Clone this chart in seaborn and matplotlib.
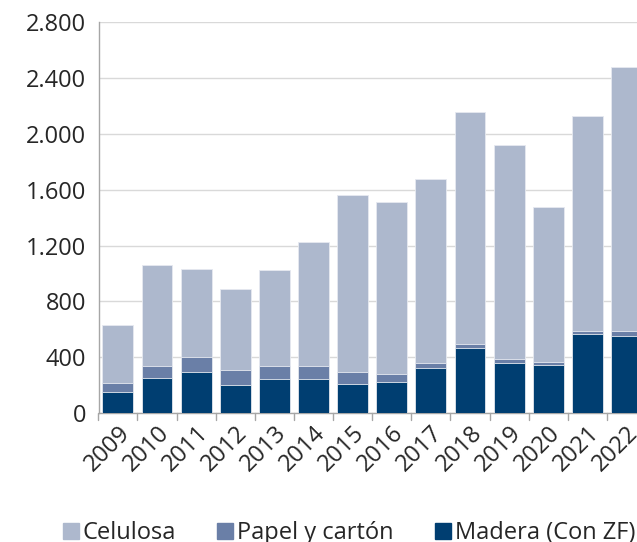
import numpy as np
import pandas as pd
import seaborn as sns
import matplotlib
matplotlib.use("Agg")
from matplotlib import pyplot as plt
from matplotlib.lines import Line2D
from matplotlib.ticker import FuncFormatter

# valores (miles de toneladas)
years = [str(y) for y in range(2009, 2023)]
madera = [151, 250, 295, 204, 242, 244, 206, 224, 326, 464, 357, 342, 567, 553]
papel = [63, 88, 105, 103, 93, 93, 86, 57, 31, 29, 33, 22, 22, 33]
celulosa = [416, 722, 632, 581, 689, 890, 1270, 1228, 1317, 1661, 1527, 1109, 1538, 1890]

c_cel = "#adb8cd"
c_pap = "#6a7fa7"
c_mad = "#003e71"
txt = "#262626"

sns.set_style("white")
plt.rcParams["font.family"] = ["Open Sans", "DejaVu Sans"]

df = pd.DataFrame({"year": years, "madera": madera, "papel": papel, "celulosa": celulosa})
df["papel_top"] = df["madera"] + df["papel"]
df["total"] = df["papel_top"] + df["celulosa"]

fig = plt.figure(figsize=(6.37, 5.42), dpi=100)
ax = fig.add_axes([0.155, 0.238, 0.845, 0.721])

# barras apiladas: se dibuja el acumulado de arriba hacia abajo
for col, color in [("total", c_cel), ("papel_top", c_pap), ("madera", c_mad)]:
    sns.barplot(data=df, x="year", y=col, color=color, width=0.79, saturation=1,
                edgecolor="#e6e9f0", linewidth=0.6, ax=ax, zorder=3)

ax.set_ylim(0, 2800)
ax.set_xlim(-0.49, 13.27)
ax.set_yticks(np.arange(0, 2801, 400))
ax.yaxis.set_major_formatter(FuncFormatter(lambda v, p: f"{int(v):,}".replace(",", ".")))
ax.grid(axis="y", color="#d9d9d9", linewidth=1, zorder=0)
ax.set_axisbelow(True)

ax.set_xlabel("")
ax.set_ylabel("")
for s in ["top", "right"]:
    ax.spines[s].set_visible(False)
for s in ["left", "bottom"]:
    ax.spines[s].set_color("#a6a6a6")
    ax.spines[s].set_linewidth(1)

ax.tick_params(axis="y", length=5, width=1, color="#a6a6a6", labelsize=17, labelcolor=txt, pad=4)
ax.tick_params(axis="x", length=0, labelsize=17, labelcolor=txt, pad=6)
for lab in ax.get_xticklabels():
    lab.set_rotation(45)
    lab.set_ha("right")
    lab.set_rotation_mode("anchor")

# marcas del eje x entre barras
for b in np.arange(-0.5, 13.6, 1.0):
    ax.plot([b, b], [0, -0.018], transform=ax.get_xaxis_transform(),
            color="#a6a6a6", linewidth=1, clip_on=False)

handles = [Line2D([], [], marker="s", linestyle="", markersize=11, color=c)
           for c in [c_cel, c_pap, c_mad]]
fig.legend(handles, ["Celulosa", "Papel y cartón", "Madera (Con ZF)"],
           loc="lower center", bbox_to_anchor=(0.545, -0.045), ncol=3, frameon=False,
           fontsize=17, labelcolor=txt, handletextpad=0.0, columnspacing=1.6,
           handlelength=1.0)

fig.savefig("out.png", dpi=100)
